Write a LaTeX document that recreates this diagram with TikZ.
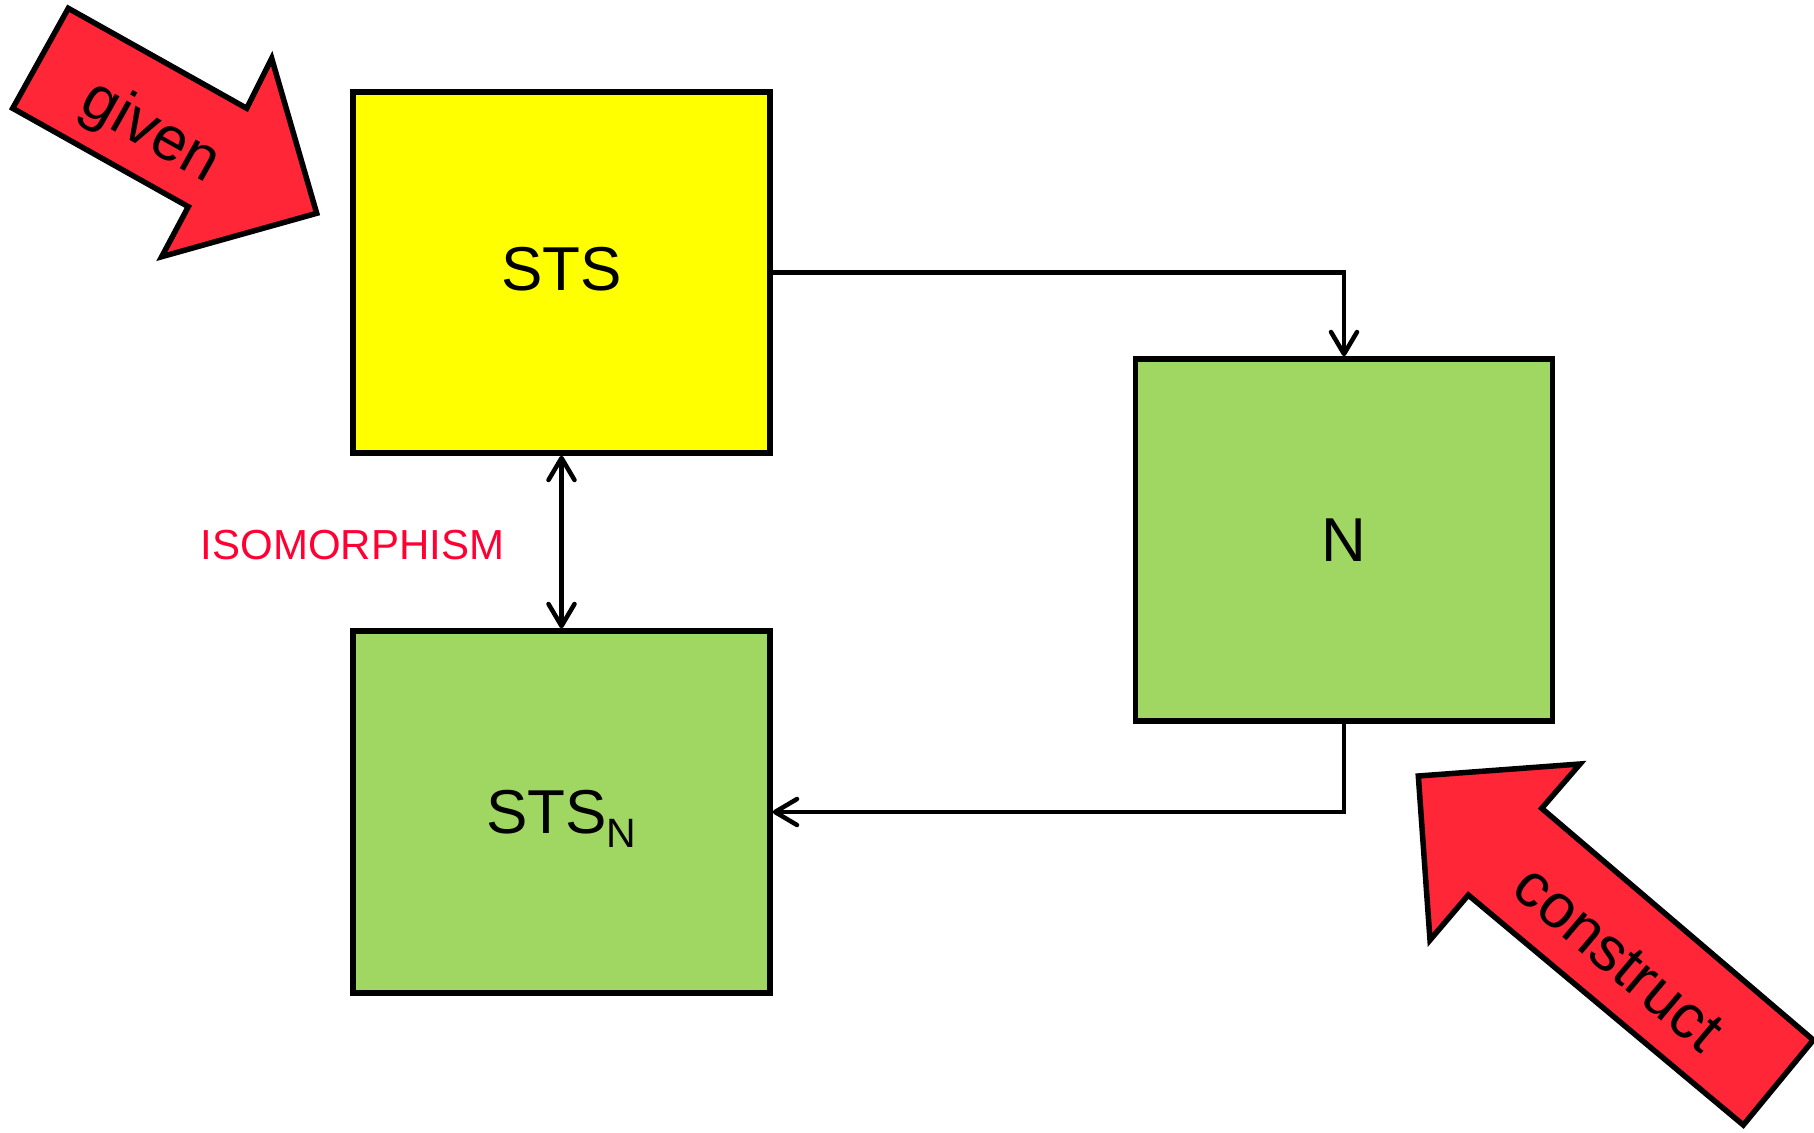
\documentclass[tikz,border=0pt]{standalone}
\usepackage{fontspec}
\setmainfont{Liberation Sans}
\usetikzlibrary{arrows.meta}

\definecolor{boxyellow}{HTML}{FFFF00}
\definecolor{boxgreen}{HTML}{A0D662}
\definecolor{blockred}{HTML}{FF2638}
\definecolor{labelred}{HTML}{FF0033}

\begin{document}
\begin{tikzpicture}[x=1pt, y=-1pt,
  box/.style={draw=black, line width=5.5pt, minimum width=417pt, minimum height=361pt,
    inner sep=0pt, font=\fontsize{62}{62}\selectfont},
  conn/.style={draw=black, line width=4.5pt,
    -{Straight Barb[length=22pt, width=26pt, round]}},
  bothconn/.style={draw=black, line width=4.5pt,
    {Straight Barb[length=22pt, width=26pt, round]}-{Straight Barb[length=22pt, width=26pt, round]}},
  blockarrow/.style={draw=black, fill=blockred, line width=5.5pt, miter limit=10},
  blocktext/.style={font=\fontsize{62}{62}\selectfont, text=black, inner sep=0pt}
]
\useasboundingbox (0,0) rectangle (1814,1132);
\clip (0,0) rectangle (1814,1132);

% the three systems
\node[box, fill=boxyellow, text depth=8pt] (sts) at (561.5,272.5) {STS};
\node[box, fill=boxgreen, minimum height=362pt] (n) at (1344,540) {N};
\node[box, fill=boxgreen, minimum height=362pt, text depth=0pt] (stsn) at (561.5,812)
  {STS\raisebox{-13.7pt}{\fontsize{41}{41}\selectfont N}};

% connectors
\draw[conn] (sts.east) -| (n.north);
\draw[conn] (n.south) |- (stsn.east);
\draw[bothconn] (sts.south) -- (stsn.north);

\node[text=labelred, font=\fontsize{42}{42}\selectfont, inner sep=0pt] (iso) at (352.5,545) {ISOMORPHISM};

% "given" block arrow
\draw[blockarrow] (68.3,8.3) -- (246.7,108.3) -- (271.7,58.3) -- (316.7,213.3)
  -- (161.7,256.7) -- (188.3,206.7) -- (12.7,108.3) -- cycle;
\node[blocktext, rotate=-29.3] (given) at (150,133) {given};

% "construct" block arrow
\draw[blockarrow] (1418.3,776) -- (1580,764) -- (1541.7,808.3) -- (1813.3,1040)
  -- (1743.3,1125) -- (1468.3,895) -- (1430,940) -- cycle;
\node[blocktext, rotate=-40.2] (construct) at (1618.3,958.3) {construct};
\end{tikzpicture}
\end{document}
